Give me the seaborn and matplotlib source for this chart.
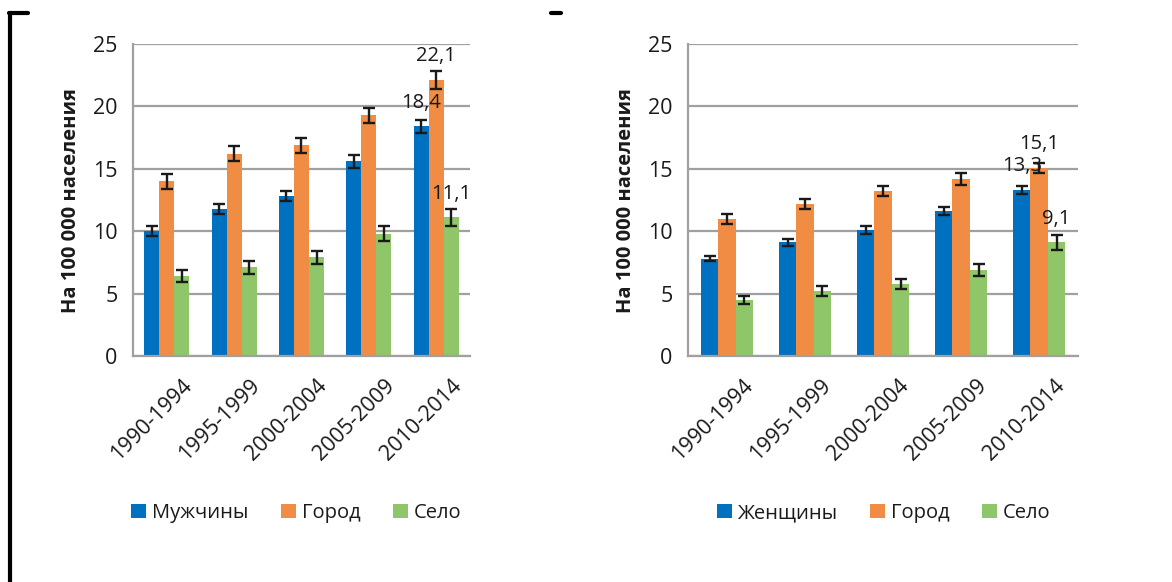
import numpy as np
import matplotlib.pyplot as plt
import matplotlib.transforms as mtransforms
import seaborn as sns
import pandas as pd
from matplotlib.lines import Line2D

periods = ["1990-1994", "1995-1999", "2000-2004", "2005-2009", "2010-2014"]

men = [10.0, 11.8, 12.8, 15.6, 18.4]
men_err = [0.4, 0.4, 0.4, 0.5, 0.5]
men_city = [14.0, 16.2, 16.9, 19.3, 22.1]
men_city_err = [0.6, 0.6, 0.6, 0.6, 0.7]
men_rural = [6.4, 7.1, 7.9, 9.8, 11.1]
men_rural_err = [0.5, 0.5, 0.5, 0.6, 0.7]

women = [7.8, 9.1, 10.1, 11.6, 13.3]
women_err = [0.2, 0.3, 0.3, 0.3, 0.3]
women_city = [11.0, 12.2, 13.2, 14.2, 15.1]
women_city_err = [0.4, 0.4, 0.4, 0.5, 0.4]
women_rural = [4.5, 5.2, 5.8, 6.9, 9.1]
women_rural_err = [0.3, 0.4, 0.4, 0.5, 0.6]

colors = ["#0070C0", "#F08C43", "#8FC66A"]
font = ["Open Sans", "DejaVu Sans"]
ink = "#1a1a1a"


def make_df(first_name, first, first_err, city, city_err, rural, rural_err):
    rows = []
    for name, vals, errs in [(first_name, first, first_err), ("Город", city, city_err),
                             ("Село", rural, rural_err)]:
        for p, v, e in zip(periods, vals, errs):
            rows.append({"period": p, "series": name, "value": v, "err": e})
    return pd.DataFrame(rows)


def draw_panel(fig, ax, df, labels):
    names = list(dict.fromkeys(df["series"]))
    sns.barplot(data=df, x="period", y="value", hue="series", hue_order=names,
                palette=colors, errorbar=None, width=0.67, saturation=1,
                edgecolor="none", ax=ax)
    # error bars and value labels from the bar patches
    for cont, name in zip(ax.containers, names):
        sub = df[df["series"] == name]
        xs = [b.get_x() + b.get_width() / 2 for b in cont]
        ax.errorbar(xs, sub["value"], yerr=sub["err"], fmt="none", ecolor=ink,
                    elinewidth=1.7, capsize=4.5, capthick=1.7, zorder=5)
        if name in labels:
            v = sub["value"].iloc[-1]
            ax.text(xs[-1], v + 1.1, f"{v:.1f}".replace(".", ","), ha="center",
                    va="bottom", fontsize=14.5, family=font, color=ink, zorder=6)
    ax.set_ylim(0, 25)
    ax.set_xlim(-0.5, len(periods) - 0.5)
    ax.set_yticks([0, 5, 10, 15, 20, 25])
    ax.yaxis.grid(True, color="#a0a0a0", linewidth=1.6)
    ax.xaxis.grid(False)
    ax.set_axisbelow(True)
    for s in ["top", "right"]:
        ax.spines[s].set_visible(False)
    for s in ["left", "bottom"]:
        ax.spines[s].set_color("#a0a0a0")
        ax.spines[s].set_linewidth(1.6)
    ax.set_xticks(np.arange(-0.5, len(periods)), minor=False)
    ax.set_xticklabels([])
    ax.set_xticks(np.arange(len(periods)), minor=True)
    ax.set_xticklabels(periods, minor=True, rotation=45, ha="right",
                       rotation_mode="anchor", fontsize=15.5, family=font, color=ink)
    ax.tick_params(axis="x", which="major", length=7, color="#a0a0a0", width=1.6)
    ax.tick_params(axis="x", which="minor", length=0, pad=6)
    ax.tick_params(axis="y", length=6, color="#a0a0a0", width=1.6, labelsize=15.5,
                   pad=5, labelcolor=ink)
    # shift the slanted labels so their ends sit right of the group centre, as in Excel
    off = mtransforms.ScaledTranslation(15 / 100, -11 / 100, fig.dpi_scale_trans)
    for t in ax.get_xticklabels(minor=True):
        t.set_transform(t.get_transform() + off)
    for t in ax.get_yticklabels():
        t.set_family(font)
    ax.set_xlabel("")
    ax.set_ylabel("На 100 000 населения", fontsize=14.5, fontweight="bold",
                  family=font, labelpad=9, color=ink)
    handles, lbls = ax.get_legend_handles_labels()
    ax.legend_.remove()
    return handles, lbls


sns.set_style("white")
plt.rcParams["font.family"] = font

fig = plt.figure(figsize=(11.72, 5.82), dpi=100)
ax1 = fig.add_axes([0.1135, 0.3883, 0.2875, 0.5361])
ax2 = fig.add_axes([0.587, 0.3883, 0.333, 0.5361])

df_m = make_df("Мужчины", men, men_err, men_city, men_city_err, men_rural, men_rural_err)
df_w = make_df("Женщины", women, women_err, women_city, women_city_err, women_rural,
               women_rural_err)

h1, l1 = draw_panel(fig, ax1, df_m, ["Мужчины", "Город", "Село"])
h2, l2 = draw_panel(fig, ax2, df_w, ["Женщины", "Город", "Село"])

for h, l, cx in [(h1, l1, 0.253), (h2, l2, 0.754)]:
    leg = fig.legend(h, l, loc="center", bbox_to_anchor=(cx, 1 - 513 / 582), ncol=3,
                     frameon=False, fontsize=14.5, handlelength=0.75, handleheight=0.75,
                     handletextpad=0.3, columnspacing=1.6)
    for t in leg.get_texts():
        t.set_color(ink)

# black frame pieces of the original page
fig.add_artist(Line2D([10 / 1172, 10 / 1172], [0, 1 - 13 / 582], color="black", lw=3))
fig.add_artist(Line2D([8.5 / 1172, 28 / 1172], [1 - 13 / 582, 1 - 13 / 582],
                      color="black", lw=3))
fig.add_artist(Line2D([551 / 1172, 561 / 1172], [1 - 13 / 582, 1 - 13 / 582],
                      color="black", lw=3))

fig.savefig("out.png", dpi=100)
